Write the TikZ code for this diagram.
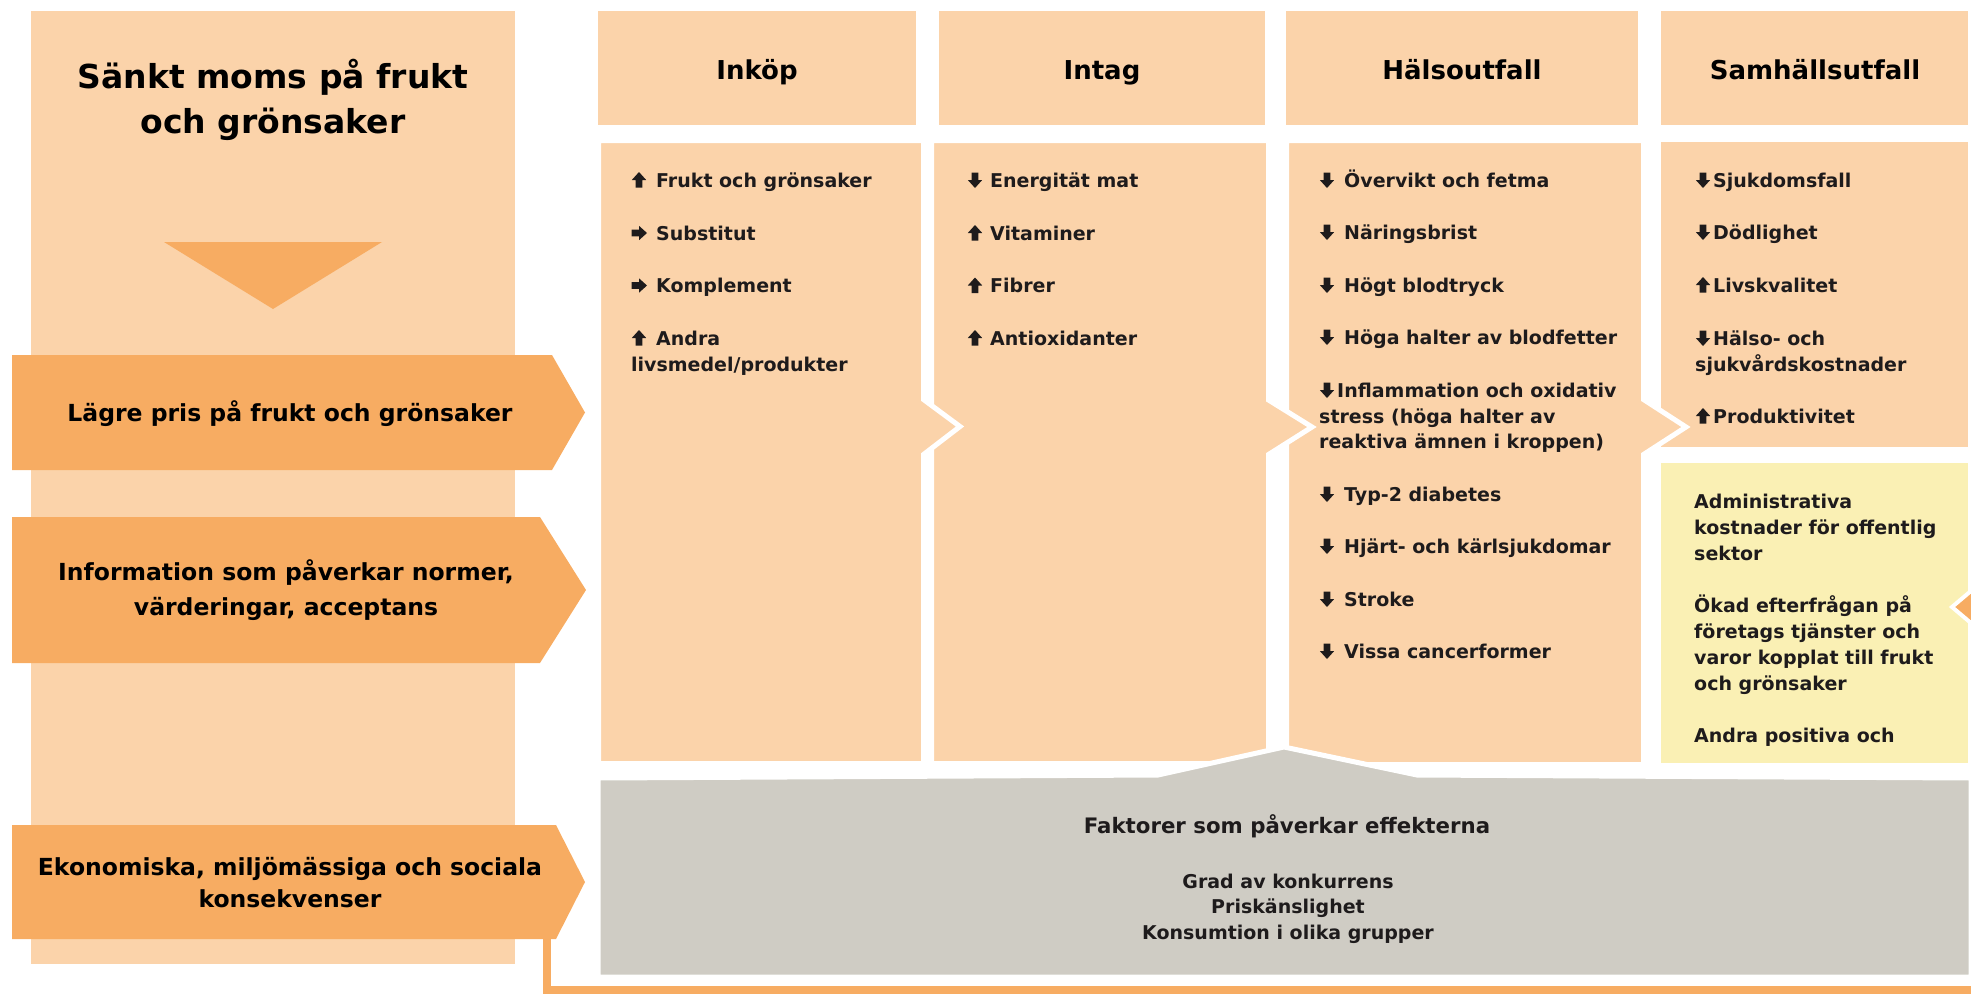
\documentclass[tikz,border=0pt]{standalone}
\usepackage{fontspec}
\setmainfont{DejaVu Sans}
\definecolor{peach}{RGB}{251,211,170}
\definecolor{orng}{RGB}{247,172,98}
\definecolor{yel}{RGB}{250,240,180}
\definecolor{greyb}{RGB}{207,204,196}
\definecolor{txt}{RGB}{30,27,28}
\tikzset{
  uparr/.pic={\fill[txt] (0,-8)--(7.2,0)--(3.3,0)--(3.3,7.5)--(-3.3,7.5)--(-3.3,0)--(-7.2,0)--cycle;},
  dnarr/.pic={\fill[txt] (0,8)--(7.2,0)--(3.3,0)--(3.3,-7.5)--(-3.3,-7.5)--(-3.3,0)--(-7.2,0)--cycle;},
  rtarr/.pic={\fill[txt] (8,0)--(0,7.2)--(0,3.3)--(-7.5,3.3)--(-7.5,-3.3)--(0,-3.3)--(0,-7.2)--cycle;},
}
\begin{document}
\begin{tikzpicture}[x=1pt,y=-1pt,
  itm/.style={anchor=base west,inner sep=0pt,text=txt,font=\fontsize{19}{26}\selectfont\bfseries},
  hdr/.style={anchor=base,inner sep=0pt,font=\fontsize{26}{30}\selectfont\bfseries},
  ttl/.style={anchor=base,inner sep=0pt,font=\fontsize{33}{40}\selectfont\bfseries},
  barlbl/.style={anchor=base,inner sep=0pt,font=\fontsize{23.5}{28}\selectfont\bfseries},
  gry/.style={anchor=base,inner sep=0pt,text=txt,font=\fontsize{19}{26}\selectfont\bfseries},
  gryt/.style={anchor=base,inner sep=0pt,text=txt,font=\fontsize{21.3}{26}\selectfont\bfseries},
  cbox/.style={fill=peach,draw=white,line width=5pt,line join=miter},
  hbox/.style={fill=peach},
  bar/.style={fill=orng},
  loopline/.style={draw=orng,line width=8pt},
]
\useasboundingbox (0,0) rectangle (1971,994);

% left column
\fill[peach] (31,11) rectangle (515,964);
\fill[orng] (164,242) -- (382,242) -- (273,309) -- cycle;
\node[ttl] (ttl1) at (273,88) {Sänkt moms på frukt};
\node[ttl] (ttl2) at (273,133) {och grönsaker};

% arrow bars
\path[bar] (12,355) -- (552,355) -- (585,412.5) -- (552,470) -- (12,470) -- cycle;
\path[bar] (12,517) -- (540,517) -- (586,590) -- (540,663) -- (12,663) -- cycle;
\path[bar] (12,825) -- (556,825) -- (585,882) -- (556,939) -- (12,939) -- cycle;
\node[barlbl] (pris) at (290,421.7) {Lägre pris på frukt och grönsaker};
\node[barlbl] (info1) at (286,580) {Information som påverkar normer,};
\node[barlbl] (info2) at (286,615) {värderingar, acceptans};
\node[barlbl] (ekon1) at (290,875) {Ekonomiska, miljömässiga och sociala};
\node[barlbl] (ekon2) at (290,907) {konsekvenser};

% header boxes
\path[hbox] (598,11) rectangle (916,125);
\path[hbox] (939,11) rectangle (1265,125);
\path[hbox] (1286,11) rectangle (1638,125);
\path[hbox] (1661,11) rectangle (1968,125);
\node[hdr] (hInk) at (757,79) {Inköp};
\node[hdr] (hInt) at (1102,79) {Intag};
\node[hdr] (hHal) at (1462,79) {Hälsoutfall};
\node[hdr] (hSam) at (1815,79) {Samhällsutfall};

% content boxes (drawn right to left so that each tip cuts the next box)
\fill[peach] (1661,142) rectangle (1968,447);
\fill[yel] (1661,463) rectangle (1968,763);
\path[cbox] (1286.5,140.5) -- (1643.5,140.5) -- (1643.5,399.5) -- (1686,427) -- (1643.5,454.5) -- (1643.5,764.5) -- (1286.5,764.5) -- cycle;
\path[cbox] (931.5,140.5) -- (1268.5,140.5) -- (1268.5,400) -- (1312,427) -- (1268.5,454.5) -- (1268.5,763.5) -- (931.5,763.5) -- cycle;
\path[cbox] (598.5,140.5) -- (923.5,140.5) -- (923.5,399.5) -- (960,426.5) -- (923.5,454.5) -- (923.5,763.5) -- (598.5,763.5) -- cycle;

% factors box
\path[fill=greyb,draw=white,line width=5pt] (598,778) -- (1158,775) -- (1284,747) -- (1417,775) -- (1971,778) -- (1971,977) -- (598,977) -- cycle;
\node[gryt] (fakt) at (1287,833) {Faktorer som påverkar effekterna};
\node[gry] (fak1) at (1288,888) {Grad av konkurrens};
\node[gry] (fak2) at (1288,913) {Priskänslighet};
\node[gry] (fak3) at (1288,939) {Konsumtion i olika grupper};

% partially visible arrow at right edge
\path[fill=orng,draw=white,line width=4pt] (1952,607) -- (1978,585) -- (1978,629) -- cycle;

% loop connector
\coordinate (ekbot) at (547,939);
\coordinate (loopR) at (1980,990);
\draw[loopline] (ekbot) |- (loopR);

% Inköp items
\pic at (639,180) {uparr};
\node[itm] (i1) at (656,187) {Frukt och grönsaker};
\pic at (639,233) {rtarr};
\node[itm] (i2) at (656,240) {Substitut};
\pic at (639,285.5) {rtarr};
\node[itm] (i3) at (656,292.5) {Komplement};
\pic at (639,338) {uparr};
\node[itm] (i4) at (656,345) {Andra};
\node[itm] (i4b) at (631,371) {livsmedel/produkter};

% Intag items
\pic at (975,180) {dnarr};
\node[itm] (n1) at (990,187) {Energität mat};
\pic at (975,233) {uparr};
\node[itm] (n2) at (990,240) {Vitaminer};
\pic at (975,285.5) {uparr};
\node[itm] (n3) at (990,292.5) {Fibrer};
\pic at (975,338) {uparr};
\node[itm] (n4) at (990,345) {Antioxidanter};

% Hälsoutfall items
\pic at (1327,180) {dnarr};
\node[itm] (h1) at (1344,187) {Övervikt och fetma};
\pic at (1327,232) {dnarr};
\node[itm] (h2) at (1344,239) {Näringsbrist};
\pic at (1327,285) {dnarr};
\node[itm] (h3) at (1344,292) {Högt blodtryck};
\pic at (1327,337) {dnarr};
\node[itm] (h4) at (1344,344) {Höga halter av blodfetter};
\pic at (1327,390) {dnarr};
\node[itm] (h5) at (1337,397) {Inflammation och oxidativ};
\node[itm] (h5b) at (1319,423) {stress (höga halter av};
\node[itm] (h5c) at (1319,448.5) {reaktiva ämnen i kroppen)};
\pic at (1327,494) {dnarr};
\node[itm] (h6) at (1344,501) {Typ-2 diabetes};
\pic at (1327,546) {dnarr};
\node[itm] (h7) at (1344,553) {Hjärt- och kärlsjukdomar};
\pic at (1327,599) {dnarr};
\node[itm] (h8) at (1344,606) {Stroke};
\pic at (1327,651) {dnarr};
\node[itm] (h9) at (1344,658) {Vissa cancerformer};

% Samhällsutfall items
\pic at (1703,180) {dnarr};
\node[itm] (s1) at (1713,187) {Sjukdomsfall};
\pic at (1703,232) {dnarr};
\node[itm] (s2) at (1713,239) {Dödlighet};
\pic at (1703,285) {uparr};
\node[itm] (s3) at (1713,292) {Livskvalitet};
\pic at (1703,338) {dnarr};
\node[itm] (s4) at (1713,345) {Hälso- och};
\node[itm] (s4b) at (1695,371) {sjukvårdskostnader};
\pic at (1703,416) {uparr};
\node[itm] (s5) at (1713,423) {Produktivitet};

% yellow box texts
\node[itm] (y1) at (1694,508) {Administrativa};
\node[itm] (y2) at (1694,534) {kostnader för offentlig};
\node[itm] (y3) at (1694,560) {sektor};
\node[itm] (y4) at (1694,612) {Ökad efterfrågan på};
\node[itm] (y5) at (1694,638) {företags tjänster och};
\node[itm] (y6) at (1694,664) {varor kopplat till frukt};
\node[itm] (y7) at (1694,690) {och grönsaker};
\node[itm] (y8) at (1694,742) {Andra positiva och};
\end{tikzpicture}
\end{document}
